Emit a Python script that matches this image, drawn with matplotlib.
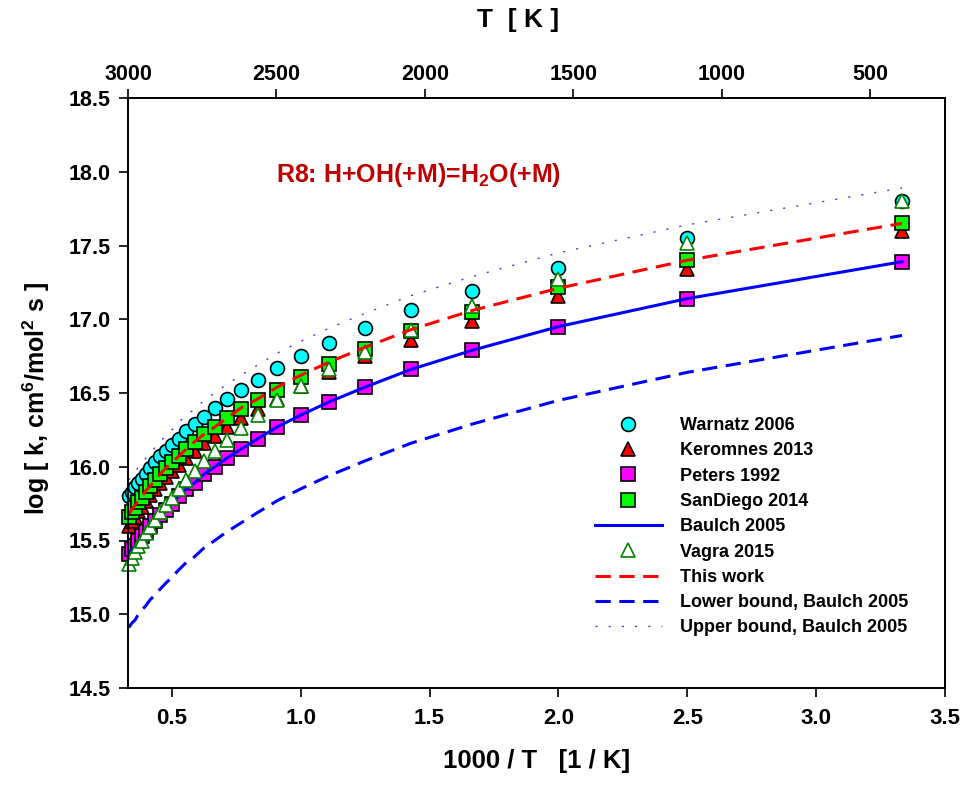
import matplotlib
matplotlib.use('Agg')
import matplotlib.pyplot as plt
import numpy as np
from matplotlib.ticker import FormatStrFormatter, FixedLocator

plt.rcParams['font.family'] = ['Liberation Sans', 'DejaVu Sans']
plt.rcParams['font.weight'] = 'bold'
plt.rcParams['mathtext.fontset'] = 'custom'
plt.rcParams['mathtext.rm'] = 'Liberation Sans:bold'
plt.rcParams['mathtext.bf'] = 'Liberation Sans:bold'
plt.rcParams['mathtext.it'] = 'Liberation Sans:bold'
plt.rcParams['mathtext.default'] = 'bf'

# ---------------- data ----------------
temps = [3000, 2900, 2800, 2700, 2600, 2500, 2400, 2300, 2200, 2100, 2000,
         1900, 1800, 1700, 1600, 1500, 1400, 1300, 1200, 1100, 1000,
         900, 800, 700, 600, 500, 400, 300]

warnatz = [15.80, 15.83, 15.86, 15.89, 15.92, 15.95, 15.99, 16.03, 16.07, 16.11,
           16.15, 16.19, 16.24, 16.29, 16.34, 16.40, 16.46, 16.52, 16.59, 16.67,
           16.75, 16.84, 16.94, 17.06, 17.19, 17.35, 17.55, 17.80]
keromnes = [15.60, 15.63, 15.66, 15.70, 15.73, 15.77, 15.81, 15.85, 15.89, 15.93,
            15.97, 16.01, 16.06, 16.11, 16.16, 16.21, 16.27, 16.33, 16.39, 16.46,
            16.55, 16.64, 16.75, 16.86, 16.99, 17.16, 17.34, 17.60]
peters = [15.41, 15.44, 15.46, 15.50, 15.53, 15.56, 15.60, 15.63, 15.67, 15.71,
          15.75, 15.80, 15.85, 15.89, 15.95, 16.00, 16.06, 16.12, 16.19, 16.27,
          16.35, 16.44, 16.54, 16.66, 16.79, 16.95, 17.14, 17.39]
sandiego = [15.66, 15.69, 15.72, 15.76, 15.79, 15.83, 15.87, 15.91, 15.95, 15.99,
            16.03, 16.07, 16.12, 16.17, 16.22, 16.27, 16.33, 16.39, 16.45, 16.52,
            16.61, 16.70, 16.80, 16.92, 17.05, 17.22, 17.40, 17.65]
baulch = [15.41, 15.44, 15.46, 15.50, 15.53, 15.56, 15.60, 15.63, 15.67, 15.71,
          15.75, 15.80, 15.85, 15.89, 15.95, 16.00, 16.06, 16.12, 16.19, 16.27,
          16.35, 16.44, 16.54, 16.66, 16.79, 16.95, 17.14, 17.39]
vagra = [15.34, 15.38, 15.42, 15.46, 15.50, 15.55, 15.59, 15.64, 15.69, 15.74,
         15.79, 15.85, 15.91, 15.97, 16.04, 16.11, 16.18, 16.26, 16.35, 16.45,
         16.55, 16.66, 16.78, 16.93, 17.09, 17.27, 17.52, 17.80]
this_work = [15.68, 15.71, 15.74, 15.77, 15.80, 15.84, 15.87, 15.91, 15.95, 15.99,
             16.03, 16.07, 16.12, 16.17, 16.22, 16.27, 16.33, 16.40, 16.46, 16.54,
             16.62, 16.71, 16.81, 16.93, 17.06, 17.21, 17.40, 17.65]
lower_bound = [14.91, 14.94, 14.96, 15.00, 15.03, 15.06, 15.10, 15.13, 15.17, 15.21,
               15.25, 15.30, 15.35, 15.39, 15.45, 15.50, 15.56, 15.62, 15.69, 15.77,
               15.85, 15.94, 16.04, 16.16, 16.29, 16.45, 16.64, 16.89]
upper_bound = [15.91, 15.94, 15.96, 16.00, 16.03, 16.06, 16.10, 16.13, 16.17, 16.21,
               16.25, 16.30, 16.35, 16.39, 16.45, 16.50, 16.56, 16.62, 16.69, 16.77,
               16.85, 16.94, 17.04, 17.16, 17.29, 17.45, 17.64, 17.89]

x_ticks = [0.5, 1.0, 1.5, 2.0, 2.5, 3.0, 3.5]
y_ticks = [14.5, 15.0, 15.5, 16.0, 16.5, 17.0, 17.5, 18.0, 18.5]
top_ticks = [3000, 2500, 2000, 1500, 1000, 500]

# ---------------- figure ----------------
W, H = 963, 788
fig = plt.figure(figsize=(W / 100, H / 100), dpi=100)
L, R, T, B = 128, 945, 98, 688
ax = fig.add_axes([L / W, 1 - B / H, (R - L) / W, (B - T) / H])

x = 1000.0 / np.array(temps, dtype=float)

mk = dict(ls='none', mew=1.2, clip_on=False)
ax.plot(x, warnatz, marker='o', ms=10, mfc='#00ffff', mec='k', label='Warnatz 2006', zorder=3, **mk)
ax.plot(x, keromnes, marker='^', ms=10, mfc='#ff0000', mec='k', label='Keromnes 2013', zorder=4, **mk)
ax.plot(x, peters, marker='s', ms=9.5, mfc='#ff00ff', mec='k', label='Peters 1992', zorder=5, **mk)
ax.plot(x, sandiego, marker='s', ms=9.5, mfc='#00ff00', mec='k', label='SanDiego 2014', zorder=6, **mk)
ax.plot(x, baulch, color='#0000ff', lw=2.2, label='Baulch 2005', zorder=7)
ax.plot(x, vagra, marker='^', ms=10.5, mfc='white', mec='#008000', label='Vagra 2015', zorder=8, **mk)
ax.plot(x, this_work, color='#ff0000', lw=2.2, dashes=(5, 2.8), label='This work', zorder=9)
ax.plot(x, lower_bound, color='#0000ff', lw=2.2, dashes=(5, 2.8), label='Lower bound, Baulch 2005', zorder=9)
ax.plot(x, upper_bound, color='#3a3aff', lw=1.0, dashes=(1.5, 8), label='Upper bound, Baulch 2005', zorder=9)

ax.set_xlim(0.33, 3.5)
ax.set_ylim(14.5, 18.5)
ax.xaxis.set_major_locator(FixedLocator(x_ticks))
ax.yaxis.set_major_locator(FixedLocator(y_ticks))
ax.xaxis.set_major_formatter(FormatStrFormatter('%.1f'))
ax.yaxis.set_major_formatter(FormatStrFormatter('%.1f'))
ax.tick_params(axis='both', direction='out', length=6.5, width=1.2, labelsize=15.5, pad=5)
ax.tick_params(axis='x', top=False, pad=8, labelsize=16)
ax.tick_params(axis='y', right=False, pad=6)
for s in ax.spines.values():
    s.set_linewidth(1.3)

ax.set_xlabel('1000 / T   [1 / K]', fontsize=18.5, fontweight='bold', labelpad=14)
ax.set_ylabel('log [ k, cm$^{6}$/mol$^{2}$ s ]', fontsize=18, fontweight='bold')
ax.yaxis.set_label_coords(-0.093, 0.49)

ax2 = ax.twiny()
ax2.set_xlim(3000, 248)
ax2.xaxis.set_major_locator(FixedLocator(top_ticks))
ax2.tick_params(axis='x', direction='out', length=6.5, width=1.2, labelsize=15.5, pad=3)
ax2.set_xlabel('T  [ K ]', fontsize=19, fontweight='bold')
ax2.xaxis.label.set_va('bottom')
ax2.xaxis.set_label_coords(0.478, 1.112)
for s in ax2.spines.values():
    s.set_linewidth(1.3)

ax.text(0.905, 17.98, 'R8: H+OH(+M)=H$_{2}$O(+M)', color='#c00000', fontsize=18,
        fontweight='bold', ha='left', va='center', zorder=10)

ax.legend(loc='upper left', bbox_to_anchor=(595 / W, 1 - 417 / H), bbox_transform=fig.transFigure,
          frameon=False, fontsize=13, handlelength=3.7, handletextpad=1.0,
          labelspacing=0.46, borderpad=0, borderaxespad=0, numpoints=1)

fig.savefig('out.png', dpi=100)
